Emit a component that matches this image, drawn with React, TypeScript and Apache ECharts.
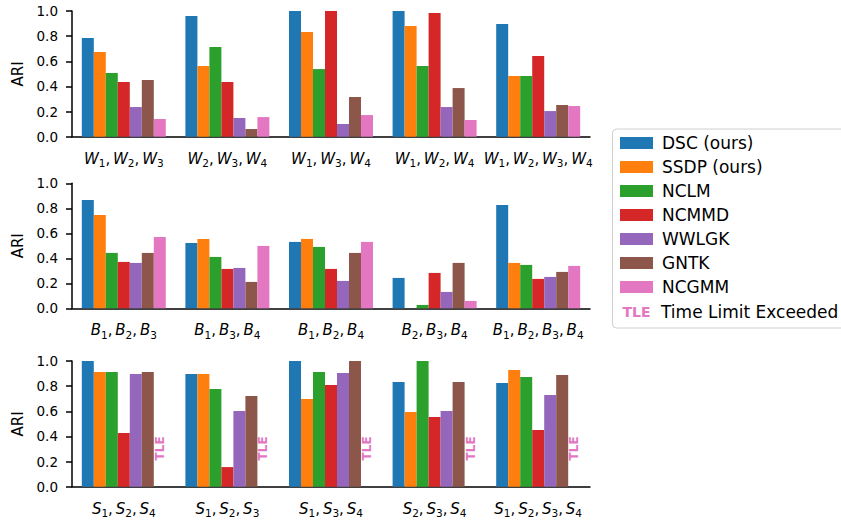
import React, { useEffect, useRef } from "react";
import * as echarts from "echarts";

const METHODS = ["DSC (ours)", "SSDP (ours)", "NCLM", "NCMMD", "WWLGK", "GNTK", "NCGMM"];
const COLORS = ["#1f77b4", "#ff7f0e", "#2ca02c", "#d62728", "#9467bd", "#8c564b", "#e377c2"];

const W_CATS = ["W_1,W_2,W_3", "W_2,W_3,W_4", "W_1,W_3,W_4", "W_1,W_2,W_4", "W_1,W_2,W_3,W_4"];
const B_CATS = ["B_1,B_2,B_3", "B_1,B_3,B_4", "B_1,B_2,B_4", "B_2,B_3,B_4", "B_1,B_2,B_3,B_4"];
const S_CATS = ["S_1,S_2,S_4", "S_1,S_2,S_3", "S_1,S_3,S_4", "S_2,S_3,S_4", "S_1,S_2,S_3,S_4"];

// Top panel (W)
const W_DSC = [0.785, 0.96, 1.0, 1.0, 0.897];
const W_SSDP = [0.674, 0.562, 0.833, 0.881, 0.483];
const W_NCLM = [0.507, 0.714, 0.538, 0.562, 0.483];
const W_NCMMD = [0.435, 0.435, 1.0, 0.984, 0.642];
const W_WWLGK = [0.236, 0.149, 0.101, 0.236, 0.204];
const W_GNTK = [0.451, 0.061, 0.316, 0.387, 0.252];
const W_NCGMM = [0.141, 0.156, 0.172, 0.133, 0.244];

// Middle panel (B)
const B_DSC = [0.867, 0.523, 0.531, 0.243, 0.827];
const B_SSDP = [0.747, 0.555, 0.555, 0, 0.363];
const B_NCLM = [0.443, 0.411, 0.491, 0.027, 0.347];
const B_NCMMD = [0.371, 0.315, 0.315, 0.283, 0.235];
const B_WWLGK = [0.363, 0.323, 0.219, 0.131, 0.251];
const B_GNTK = [0.443, 0.211, 0.443, 0.363, 0.291];
const B_NCGMM = [0.571, 0.499, 0.531, 0.059, 0.339];

// Bottom panel (S) - NCGMM: time limit exceeded
const S_DSC = [1.0, 0.897, 1.0, 0.833, 0.825];
const S_SSDP = [0.912, 0.897, 0.698, 0.594, 0.928];
const S_NCLM = [0.912, 0.777, 0.912, 1.0, 0.873];
const S_NCMMD = [0.427, 0.156, 0.809, 0.554, 0.451];
const S_WWLGK = [0.897, 0.602, 0.905, 0.602, 0.729];
const S_GNTK = [0.912, 0.721, 1.0, 0.833, 0.889];
const S_NCGMM_TLE = [true, true, true, true, true];

const TLE_CENTER = 0.305;
const FONT = "DejaVu Sans";

function catFormatter(v: string) {
  return v
    .split(",")
    .map((p) => {
      const [letter, idx] = p.split("_");
      return `{i|${letter}}{s|${idx}}`;
    })
    .join("{n|,}{sp| }");
}

export default function App() {
  const ref = useRef<HTMLDivElement>(null);

  useEffect(() => {
    document.body.style.margin = "0";
    if (!ref.current) return;
    const chart = echarts.init(ref.current, null, { renderer: "svg" });

    const gridDefs = [
      { top: 11, height: 125.7 },
      { top: 183.3, height: 125 },
      { top: 361, height: 125.7 },
    ];
    const cats = [W_CATS, B_CATS, S_CATS];
    const panels = [
      [W_DSC, W_SSDP, W_NCLM, W_NCMMD, W_WWLGK, W_GNTK, W_NCGMM],
      [B_DSC, B_SSDP, B_NCLM, B_NCMMD, B_WWLGK, B_GNTK, B_NCGMM],
      [S_DSC, S_SSDP, S_NCLM, S_NCMMD, S_WWLGK, S_GNTK, null],
    ];

    const grid = gridDefs.map((g) => ({ left: 72, width: 518, top: g.top, height: g.height }));

    const xAxis = cats.map((c, i) => ({
      type: "category",
      gridIndex: i,
      data: c,
      axisLine: { lineStyle: { color: "#000", width: 1.5 } },
      axisTick: { alignWithLabel: true, length: 6, lineStyle: { color: "#000", width: 1.5 } },
      axisLabel: {
        interval: 0,
        margin: 12,
        color: "#000",
        formatter: catFormatter,
        rich: {
          i: { fontFamily: FONT, fontStyle: "italic", fontSize: 15, lineHeight: 20, color: "#000" },
          s: { fontFamily: FONT, fontSize: 10.5, lineHeight: 8, verticalAlign: "bottom", color: "#000" },
          n: { fontFamily: FONT, fontSize: 15, lineHeight: 20, color: "#000" },
          sp: { fontFamily: FONT, fontSize: 9, lineHeight: 20, color: "#000" },
        },
      },
    }));

    const yAxis = cats.map((_, i) => ({
      type: "value",
      gridIndex: i,
      min: 0,
      max: 1,
      interval: 0.2,
      name: "ARI",
      nameLocation: "middle",
      nameGap: 43,
      nameTextStyle: { fontFamily: FONT, fontSize: 15, color: "#000" },
      axisLine: { show: true, lineStyle: { color: "#000", width: 1.5 } },
      axisTick: { show: true, length: 6, lineStyle: { color: "#000", width: 1.5 } },
      splitLine: { show: false },
      axisLabel: {
        fontFamily: FONT,
        fontSize: 13.5,
        color: "#000",
        margin: 14,
        formatter: (v: number) => v.toFixed(1),
      },
    }));

    const series: any[] = [];
    panels.forEach((vals, pi) => {
      METHODS.forEach((m, mi) => {
        const arr = vals[mi];
        if (arr) {
          series.push({
            type: "bar",
            name: m,
            xAxisIndex: pi,
            yAxisIndex: pi,
            data: arr,
            barWidth: 12,
            barGap: "0%",
            itemStyle: { color: COLORS[mi] },
          });
        } else {
          series.push({
            type: "bar",
            name: m,
            xAxisIndex: pi,
            yAxisIndex: pi,
            barWidth: 12,
            barGap: "0%",
            itemStyle: { color: COLORS[mi] },
            silent: true,
            data: S_NCGMM_TLE.map((t) => ({
              value: t ? 2 * TLE_CENTER : 0,
              itemStyle: { color: "rgba(0,0,0,0)" },
              label: {
                show: t,
                position: "inside",
                rotate: 90,
                formatter: "TLE",
                color: COLORS[mi],
                fontFamily: FONT,
                fontWeight: "bold",
                fontSize: 12,
              },
            })),
          });
        }
      });
    });

    chart.setOption({
      animation: false,
      backgroundColor: "#fff",
      grid,
      xAxis,
      yAxis,
      legend: {
        data: METHODS,
        orient: "vertical",
        left: 620,
        top: 134.5,
        padding: 0,
        icon: "rect",
        itemWidth: 33,
        itemHeight: 12,
        itemGap: 7,
        textStyle: { fontFamily: FONT, fontSize: 17, lineHeight: 17, color: "#000", padding: [0, 0, 0, 4] },
      },
      graphic: [
        {
          type: "rect",
          shape: { x: 612.5, y: 129, width: 240, height: 199, r: 4 },
          style: { fill: "none", stroke: "#d0d0d0", lineWidth: 1 },
          silent: true,
        },
        {
          type: "text",
          x: 622.5,
          y: 312,
          style: {
            text: "TLE",
            fill: COLORS[6],
            font: `bold 14px "${FONT}"`,
            verticalAlign: "middle",
            align: "left",
          },
        },
        {
          type: "text",
          x: 661,
          y: 312,
          style: {
            text: "Time Limit Exceeded",
            fill: "#000",
            font: `17px "${FONT}"`,
            verticalAlign: "middle",
            align: "left",
          },
        },
      ],
      series,
    });

    return () => chart.dispose();
  }, []);

  return <div ref={ref} style={{ width: 841, height: 521 }} />;
}
